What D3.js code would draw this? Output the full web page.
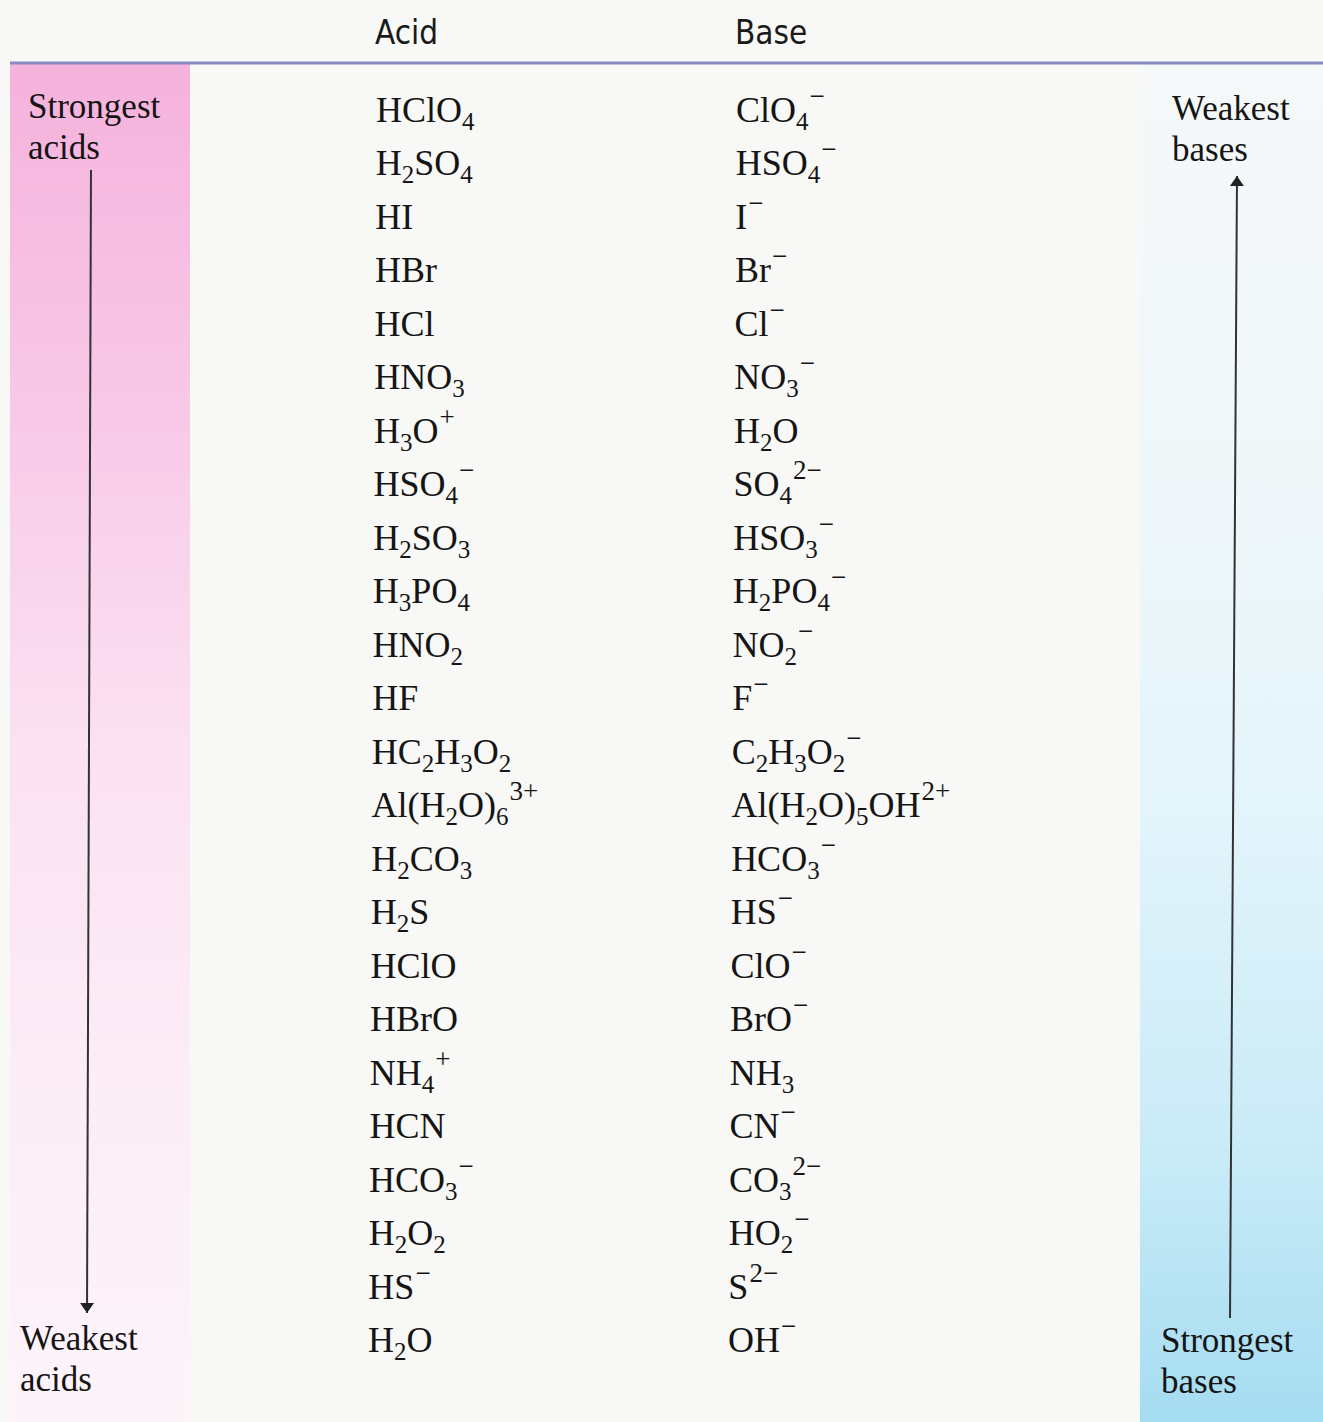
<!DOCTYPE html>
<html><head><meta charset="utf-8">
<script src="https://cdn.jsdelivr.net/npm/d3@7"></script>
<style>html,body{margin:0;padding:0;background:#f8f8f6;}svg{display:block}</style>
</head><body>
<svg id="c" width="1323" height="1422"></svg>
<script>
// ---- data ----
const headers = ["Acid", "Base"];
const acids = ["HClO_{4}","H_{2}SO_{4}","HI","HBr","HCl","HNO_{3}","H_{3}O^{+}","HSO_{4}^{−}","H_{2}SO_{3}","H_{3}PO_{4}","HNO_{2}","HF","HC_{2}H_{3}O_{2}","Al(H_{2}O)_{6}^{3+}","H_{2}CO_{3}","H_{2}S","HClO","HBrO","NH_{4}^{+}","HCN","HCO_{3}^{−}","H_{2}O_{2}","HS^{−}","H_{2}O"];
const bases = ["ClO_{4}^{−}","HSO_{4}^{−}","I^{−}","Br^{−}","Cl^{−}","NO_{3}^{−}","H_{2}O","SO_{4}^{2−}","HSO_{3}^{−}","H_{2}PO_{4}^{−}","NO_{2}^{−}","F^{−}","C_{2}H_{3}O_{2}^{−}","Al(H_{2}O)_{5}OH^{2+}","HCO_{3}^{−}","HS^{−}","ClO^{−}","BrO^{−}","NH_{3}","CN^{−}","CO_{3}^{2−}","HO_{2}^{−}","S^{2−}","OH^{−}"];
const leftLabels = [["Strongest","acids"],["Weakest","acids"]];
const rightLabels = [["Weakest","bases"],["Strongest","bases"]];

// ---- drawing ----
const W = 1323, H = 1422;
const svg = d3.select("#c");
const defs = svg.append("defs");

const pg = defs.append("linearGradient").attr("id","pink").attr("x1",0).attr("x2",0).attr("y1",0).attr("y2",1);
[[0,"#f5b2dc"],[0.25,"#f8c8e7"],[0.5,"#fbe1f2"],[0.75,"#fcedf7"],[1,"#fdf4fa"]].forEach(s=>pg.append("stop").attr("offset",s[0]).attr("stop-color",s[1]));
const bg = defs.append("linearGradient").attr("id","blue").attr("x1",0).attr("x2",0).attr("y1",0).attr("y2",1);
[[0,"#f6f8f9"],[0.35,"#eef7fa"],[0.55,"#e3f4fb"],[0.8,"#c9ebf7"],[1,"#a5dcf1"]].forEach(s=>bg.append("stop").attr("offset",s[0]).attr("stop-color",s[1]));

svg.append("rect").attr("x",0).attr("y",0).attr("width",W).attr("height",H).attr("fill","#f8f8f6");
svg.append("rect").attr("x",10).attr("y",64).attr("width",180).attr("height",H-64).attr("fill","url(#pink)");
svg.append("rect").attr("x",1140).attr("y",64).attr("width",W-1140).attr("height",H-64).attr("fill","url(#blue)");

// header rule
svg.append("line").attr("x1",10).attr("x2",W).attr("y1",63).attr("y2",63).attr("stroke","#8a8abf").attr("stroke-width",3);

const y = d3.scalePoint().domain(d3.range(acids.length)).range([122,1352]);
// slight scan skew: column x drifts left with depth
const skew = d3.scaleLinear().domain([122,1352]).range([0,-8]);
const colX = [376, 736];

const hdrFont = "'Liberation Sans Narrow','DejaVu Sans Condensed',sans-serif";
const serif = "'Liberation Serif','DejaVu Serif',serif";

svg.selectAll("text.hdr").data(headers).join("text").attr("class","hdr")
  .attr("x",(d,i)=>colX[i]-1).attr("y",44).attr("font-family",hdrFont).attr("font-size",33)
  .attr("fill","#1a1a1a").text(d=>d);

function parse(s){
  const out=[]; let i=0;
  while(i<s.length){
    const c=s[i];
    if((c==="_"||c==="^")&&s[i+1]==="{"){
      const j=s.indexOf("}",i);
      out.push({t:s.slice(i+2,j),k:c==="_"?"sub":"sup"}); i=j+1;
    } else {
      let j=i; while(j<s.length && !((s[j]==="_"||s[j]==="^")&&s[j+1]==="{")) j++;
      out.push({t:s.slice(i,j),k:"n"}); i=j;
    }
  }
  return out;
}
const FS = 36, SUBFS = 25, SUPFS = 27;
const offs = {n:0, sub:8, sup:-17};
function drawFormula(g, f, x, yy){
  const t = g.append("text").attr("x",x).attr("y",yy).attr("font-family",serif).attr("font-size",FS).attr("fill","#151515");
  let cur=0;
  parse(f).forEach(p=>{
    const o=offs[p.k];
    t.append("tspan").attr("dy",o-cur).attr("font-size",p.k==="n"?FS:(p.k==="sub"?SUBFS:SUPFS)).attr("dx",p.k==="sup"?1:0).text(p.t);
    cur=o;
  });
}
const tbl = svg.append("g");
[acids,bases].forEach((col,ci)=>{
  col.forEach((f,i)=>{
    const yy=y(i);
    drawFormula(tbl,f,colX[ci]+skew(yy),yy);
  });
});

// side labels
function label(lines,x,y0){
  lines.forEach((l,i)=>svg.append("text").attr("x",x).attr("y",y0+i*41).attr("font-family",serif).attr("font-size",35).attr("fill","#151515").text(l));
}
label(leftLabels[0],28,118);
label(leftLabels[1],20,1350);
label(rightLabels[0],1172,120);
label(rightLabels[1],1161,1352);

// arrows
defs.append("marker").attr("id","ah").attr("viewBox","0 0 10 20").attr("refX",10).attr("refY",10)
  .attr("markerWidth",10).attr("markerHeight",20).attr("markerUnits","userSpaceOnUse").attr("orient","auto")
  .append("path").attr("d","M0,3 L10,10 L0,17 Z").attr("fill","#222");
svg.append("line").attr("x1",91).attr("y1",170).attr("x2",87).attr("y2",1313).attr("stroke","#333").attr("stroke-width",2).attr("marker-end","url(#ah)");
svg.append("line").attr("x1",1230).attr("y1",1318).attr("x2",1237).attr("y2",176).attr("stroke","#333").attr("stroke-width",2).attr("marker-end","url(#ah)");
</script>
</body></html>
